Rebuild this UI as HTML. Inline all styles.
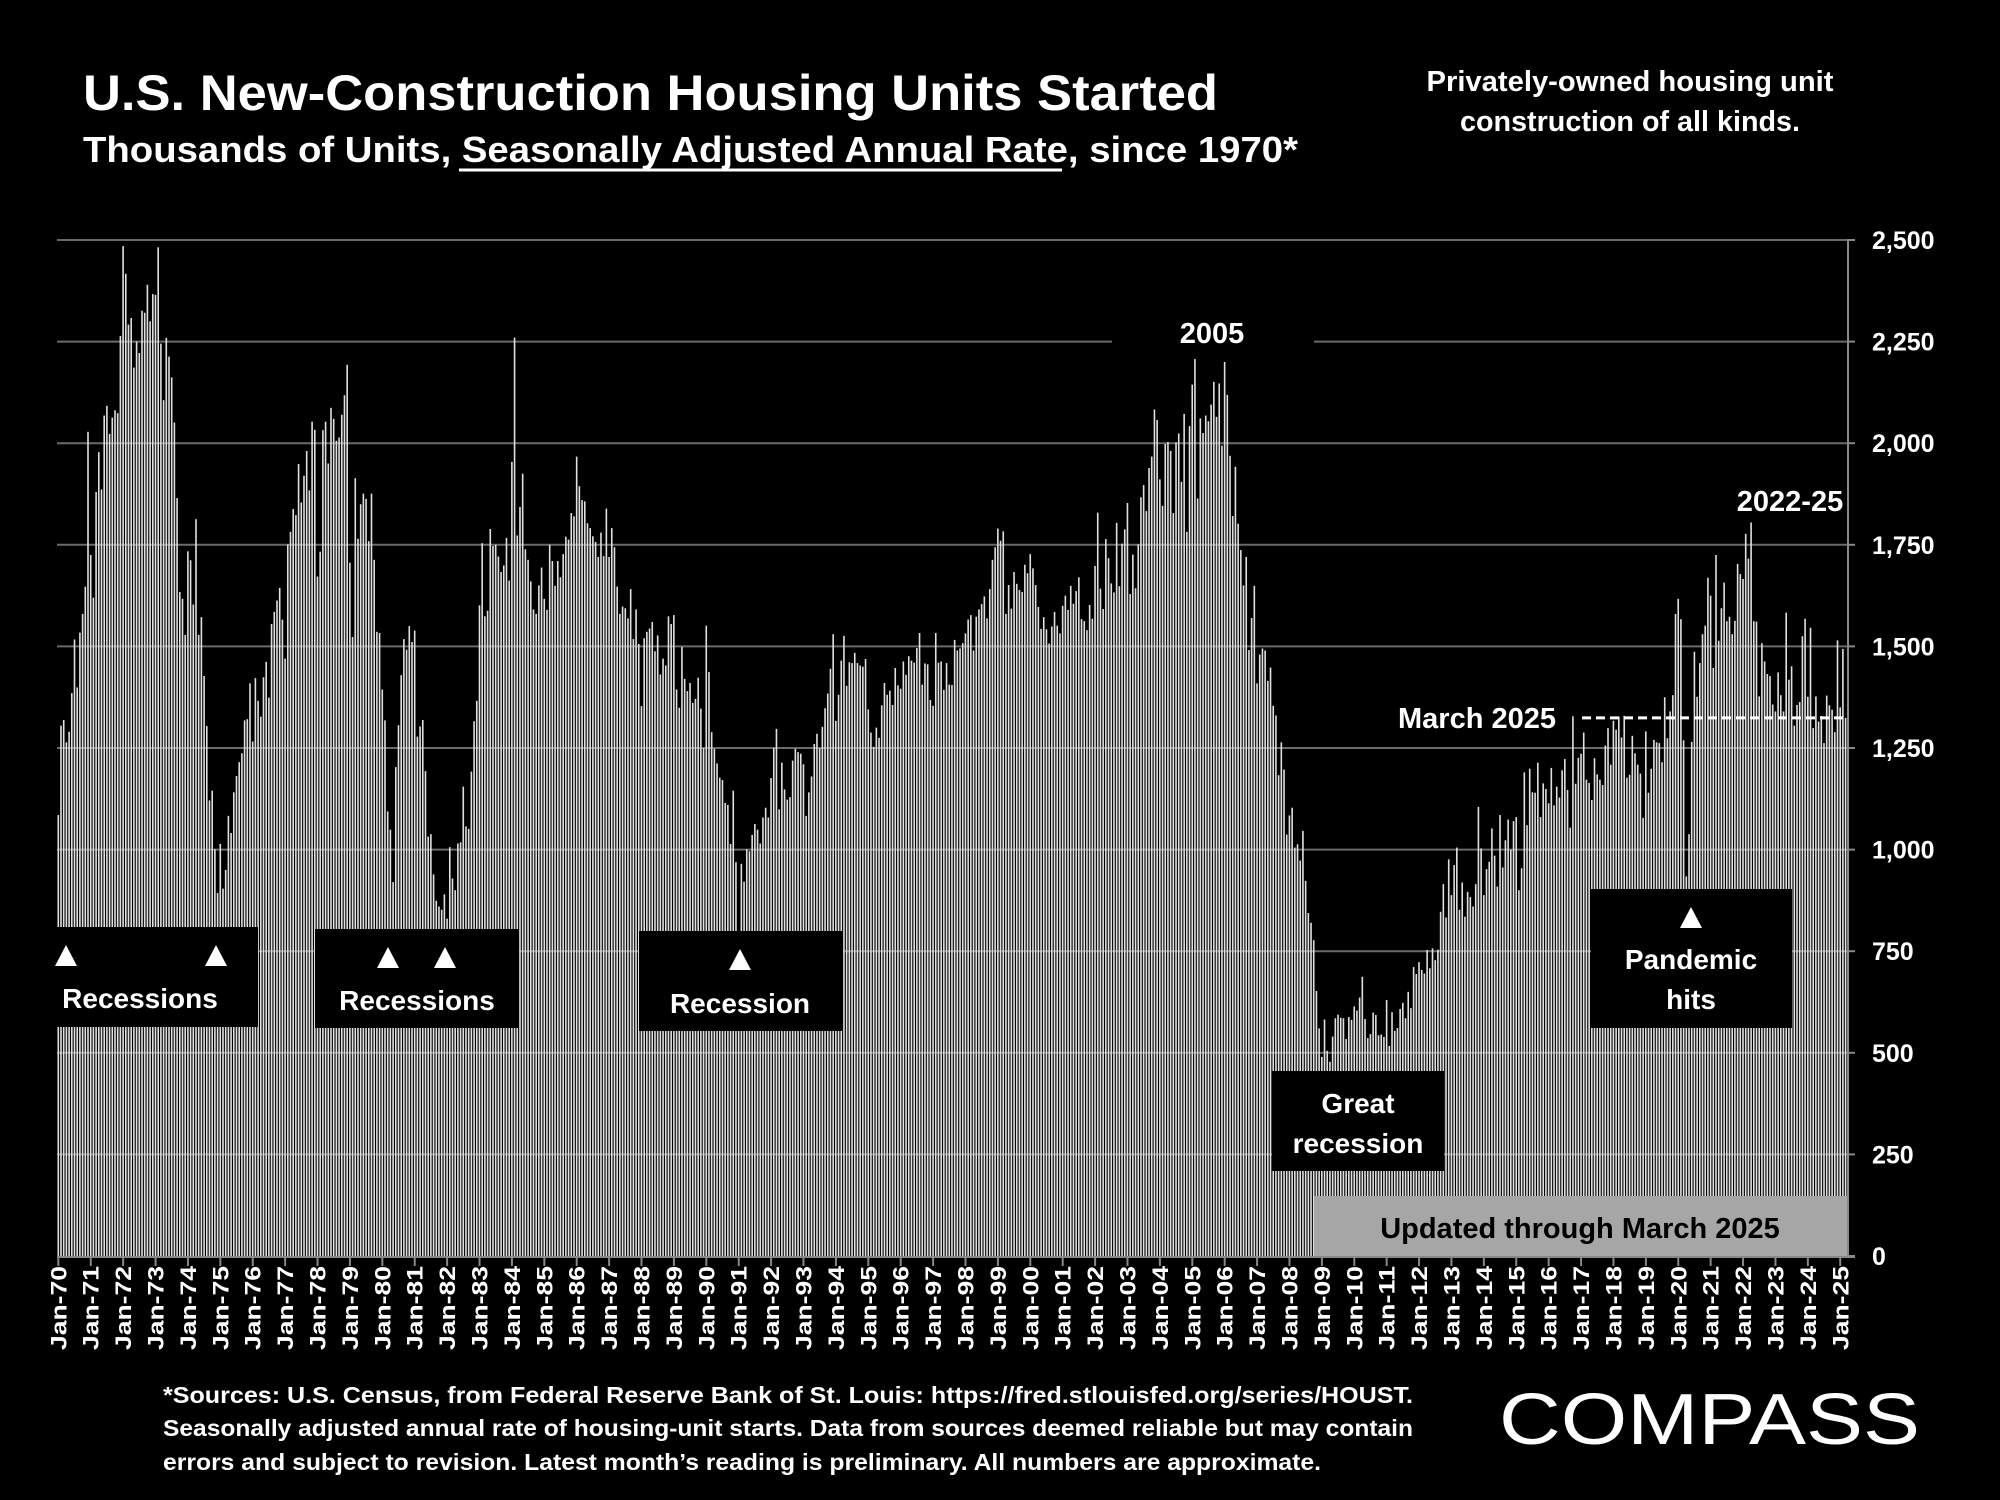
<!DOCTYPE html>
<html><head><meta charset="utf-8">
<style>
html,body{margin:0;padding:0;background:#000;width:2000px;height:1500px;overflow:hidden}
svg text{font-family:"Liberation Sans",sans-serif;font-weight:bold;fill:#fff}
</style></head>
<body>
<svg id="chart" width="2000" height="1500" viewBox="0 0 2000 1500" xmlns="http://www.w3.org/2000/svg">
<rect x="0" y="0" width="2000" height="1500" fill="#000"/>
<text x="83" y="110" font-size="50" textLength="1135" lengthAdjust="spacingAndGlyphs">U.S. New-Construction Housing Units Started</text>
<text x="83" y="162" font-size="36" textLength="1215" lengthAdjust="spacingAndGlyphs">Thousands of Units, Seasonally Adjusted Annual Rate, since 1970*</text>
<line x1="459" y1="170" x2="1062" y2="170" stroke="#fff" stroke-width="3"/>
<text x="1630" y="91" font-size="29" text-anchor="middle" textLength="407" lengthAdjust="spacingAndGlyphs">Privately-owned housing unit</text>
<text x="1630" y="131" font-size="29" text-anchor="middle" textLength="340" lengthAdjust="spacingAndGlyphs">construction of all kinds.</text>
<g id="grid"></g>
<g id="bars"></g>
<g id="axes"></g>
<g id="annot"></g>
<text x="163" y="1403" font-size="23" textLength="1250" lengthAdjust="spacingAndGlyphs">*Sources: U.S. Census, from Federal Reserve Bank of St. Louis:   https://fred.stlouisfed.org/series/HOUST.</text>
<text x="163" y="1436" font-size="23" textLength="1250" lengthAdjust="spacingAndGlyphs">Seasonally adjusted annual rate of housing-unit starts. Data from sources deemed reliable but may contain</text>
<text x="163" y="1470" font-size="23" textLength="1158" lengthAdjust="spacingAndGlyphs">errors and subject to revision. Latest month’s reading is preliminary. All numbers are approximate.</text>
<text x="1499" y="1444" font-size="72" style="font-weight:normal" textLength="421" lengthAdjust="spacingAndGlyphs">COMPASS</text>
</svg>
<script>
const startYear = 1970;
const starts = [
1085,1305,1319,1264,1290,1385,1517,1399,1534,1580,1647,2028,
1725,1620,1880,1978,1886,2068,2092,2023,2063,2081,2074,2264,
2485,2417,2292,2308,2186,2250,2222,2326,2321,2390,2300,2367,
2365,2482,2245,2106,2259,2213,2162,2051,1865,1634,1617,1528,
1734,1712,1603,1813,1528,1572,1427,1304,1121,1145,1001,893,
1014,904,950,1083,1041,1141,1181,1215,1237,1318,1321,1409,
1266,1422,1366,1327,1424,1462,1374,1555,1585,1613,1644,1566,
1470,1751,1782,1838,1823,1949,1854,1920,1981,1884,2053,2033,
1672,1733,2032,2053,1950,2087,2060,2006,2014,2070,2118,2193,
1706,1523,1914,1765,1850,1876,1863,1759,1876,1713,1536,1533,
1394,1318,1094,1049,920,1203,1306,1429,1518,1492,1550,1511,
1539,1278,1303,1319,1193,1032,1038,939,874,860,852,890,
830,1006,929,900,1015,1018,1155,1057,1051,1192,1316,1366,
1601,1754,1574,1588,1789,1747,1750,1721,1683,1699,1767,1662,
1954,2260,1773,1843,1925,1739,1713,1660,1591,1580,1650,1694,
1617,1590,1750,1710,1649,1710,1670,1727,1770,1763,1828,1820,
1967,1894,1860,1857,1803,1791,1771,1757,1720,1780,1722,1839,
1720,1791,1744,1647,1580,1598,1594,1569,1641,1518,1591,1506,
1353,1520,1536,1544,1560,1488,1527,1431,1470,1453,1574,1555,
1577,1394,1349,1499,1420,1390,1410,1361,1371,1423,1347,1250,
1551,1437,1289,1248,1212,1177,1171,1115,1110,1014,1145,969,
798,965,921,1001,996,1036,1063,1049,1015,1079,1103,1079,
1176,1250,1297,1099,1214,1148,1123,1129,1219,1248,1240,1236,
1210,1083,1141,1180,1260,1285,1250,1302,1348,1384,1445,1530,
1317,1381,1465,1526,1403,1461,1459,1484,1459,1453,1450,1469,
1345,1288,1253,1300,1275,1355,1410,1381,1391,1356,1447,1404,
1396,1463,1430,1476,1465,1460,1496,1533,1406,1458,1456,1368,
1354,1533,1460,1463,1393,1459,1406,1405,1516,1490,1495,1508,
1532,1566,1577,1490,1573,1591,1604,1623,1569,1641,1713,1744,
1790,1760,1783,1580,1651,1593,1683,1654,1639,1634,1701,1680,
1727,1692,1651,1597,1543,1572,1542,1507,1549,1585,1551,1532,
1600,1625,1590,1649,1605,1636,1670,1567,1562,1540,1602,1568,
1698,1829,1642,1592,1764,1717,1655,1633,1804,1648,1753,1788,
1853,1629,1726,1643,1751,1867,1897,1833,1939,1967,2083,2057,
1911,1846,1998,2003,1981,1828,2002,2024,1905,2072,1782,2042,
2144,2207,1864,2061,2025,2068,2054,2095,2151,2065,2147,1994,
2200,2119,1969,1821,1942,1802,1737,1650,1720,1491,1570,1649,
1409,1480,1495,1490,1415,1448,1354,1330,1183,1264,1197,1037,
1084,1103,1005,1013,973,1046,923,844,820,777,652,560,
490,582,505,478,540,585,594,586,585,534,588,581,
614,604,636,687,583,536,546,599,593,543,545,539,
630,517,600,554,561,608,623,585,650,610,711,694,
723,704,695,753,708,757,728,754,847,915,833,976,
888,962,1005,852,919,835,896,883,860,915,1105,1003,
888,952,970,1052,985,909,1085,956,1023,1074,1000,1070,
1080,900,954,1190,1060,1199,1141,1140,1214,1080,1163,1149,
1114,1201,1109,1155,1128,1195,1223,1147,1054,1328,1162,1226,
1236,1288,1172,1164,1122,1225,1185,1172,1159,1256,1299,1209,
1317,1295,1327,1276,1329,1177,1184,1280,1237,1209,1187,1078,
1291,1140,1199,1270,1264,1262,1215,1375,1274,1340,1380,1580,
1617,1567,1269,934,1038,1265,1487,1376,1459,1530,1551,1669,
1625,1447,1725,1514,1594,1657,1562,1573,1530,1563,1703,1678,
1666,1777,1716,1805,1562,1561,1377,1508,1463,1432,1427,1357,
1340,1436,1380,1340,1583,1418,1451,1305,1356,1363,1525,1568,
1376,1546,1299,1377,1315,1329,1262,1379,1355,1344,1289,1515,
1350,1494,1324
];
const yTicks = [0,250,500,750,1000,1250,1500,1750,2000,2250,2500];
const yTickLabels = ["0","250","500","750","1,000","1,250","1,500","1,750","2,000","2,250","2,500"];
const latestValue = 1324;

const NS = "http://www.w3.org/2000/svg";
const X0 = 57, X1 = 1847, Y0 = 1256, YTOP = 240, YMAX = 2500;
const n = starts.length;
const step = (X1 - X0) / n;
function xPos(i){ return X0 + i*step; }
function yPos(v){ return Y0 - v/YMAX*(Y0-YTOP); }
function mk(tag, attrs, parent){
  const e = document.createElementNS(NS, tag);
  for (const k in attrs) e.setAttribute(k, attrs[k]);
  parent.appendChild(e); return e;
}
const grid = document.getElementById('grid');
const bars = document.getElementById('bars');
const axes = document.getElementById('axes');
const annot = document.getElementById('annot');

yTicks.forEach((t, k) => {
  if (t > 0) {
    const g = mk('line', {x1:X0, x2:X1, y1:yPos(t), y2:yPos(t), stroke:'#6a6a6a', 'stroke-width':2}, grid);
    
    
  }
  const tk = mk('line', {x1:X1, x2:X1+8, y1:yPos(t), y2:yPos(t), stroke:'#888', 'stroke-width':2}, axes);
  
  
  const lb = mk('text', {x:1872, y:yPos(t)+9, 'font-size':25}, axes);
  lb.textContent = yTickLabels[k];
  
  
});

starts.forEach((v, i) => {
  const b = mk('rect', {x:xPos(i)+0.5, y:yPos(v), width:1.6, height:Y0-yPos(v), fill:'#e0e0e0'}, bars);
  
  
});

const ax = mk('line', {x1:X1+1, x2:X1+1, y1:YTOP, y2:Y0, stroke:'#888', 'stroke-width':2}, axes);


const xa = mk('line', {x1:X0, x2:X1+8, y1:Y0+1, y2:Y0+1, stroke:'#888', 'stroke-width':2}, axes);



for (let i = 0; i < n; i += 12) {
  const yr = (startYear + i/12) % 100;
  const x = xPos(i) + step/2;
  const tk = mk('line', {x1:x, x2:x, y1:Y0, y2:Y0+10, stroke:'#888', 'stroke-width':2}, axes);
  
  
  const lb = mk('text', {x:0, y:0, 'font-size':22, 'text-anchor':'end', textLength:84, lengthAdjust:'spacingAndGlyphs', transform:`translate(${x+8},${Y0+10}) rotate(-90)`}, axes);
  lb.textContent = 'Jan-' + String(yr).padStart(2,'0');
  
  
}

function box(x, y, w, h, name, fill){
  const r = mk('rect', {x:x, y:y, width:w, height:h, fill:fill||'#000'}, annot);
  
  
}
function txt(x, y, s, size, name, fill){
  const t = mk('text', {x:x, y:y, 'font-size':size, 'text-anchor':'middle'}, annot);
  if (fill) t.setAttribute('style', 'fill:' + fill);
  t.textContent = s;
  
  
}
function tri(cx, cy, name){
  const p = mk('polygon', {points:`${cx-11},${cy+10} ${cx+11},${cy+10} ${cx},${cy-11}`, fill:'#fff'}, annot);
  
  
}

box(57, 927, 201, 100, 'recessions-box-1');
tri(66, 956, 'recession-marker'); tri(216, 956, 'recession-marker');
txt(140, 1008, 'Recessions', 28, 'recessions-label-1');
box(315, 929, 204, 99, 'recessions-box-2');
tri(388, 958, 'recession-marker'); tri(445, 958, 'recession-marker');
txt(417, 1010, 'Recessions', 28, 'recessions-label-2');
box(639, 931, 204, 100, 'recession-box-3');
tri(740, 960, 'recession-marker');
txt(740, 1013, 'Recession', 28, 'recession-label-3');
box(1272, 1071, 172, 100, 'great-recession-box');
txt(1358, 1113, 'Great', 28, 'great-recession-label');
txt(1358, 1153, 'recession', 28, 'great-recession-label');
box(1591, 889, 201, 139, 'pandemic-box');
tri(1691, 918, 'pandemic-marker');
txt(1691, 969, 'Pandemic', 28, 'pandemic-label');
txt(1691, 1009, 'hits', 28, 'pandemic-label');
box(1314, 1196, 533, 60, 'updated-box', '#a6a6a6');
txt(1580, 1238, 'Updated through March 2025', 29, 'updated-label', '#000');
box(1112, 320, 202, 36, 'peak-2005-bg');
txt(1212, 343, '2005', 29, 'peak-2005-label');
txt(1790, 511, '2022-25', 29, 'peak-2022-25-label');
const dl = mk('line', {x1:1582, x2:X1, y1:yPos(latestValue), y2:yPos(latestValue), stroke:'#fff', 'stroke-width':3, 'stroke-dasharray':'9,5'}, annot);


const ml = mk('text', {x:1556, y:yPos(latestValue)+10, 'font-size':29, 'text-anchor':'end'}, annot);
ml.textContent = 'March 2025';


</script>
</body></html>
